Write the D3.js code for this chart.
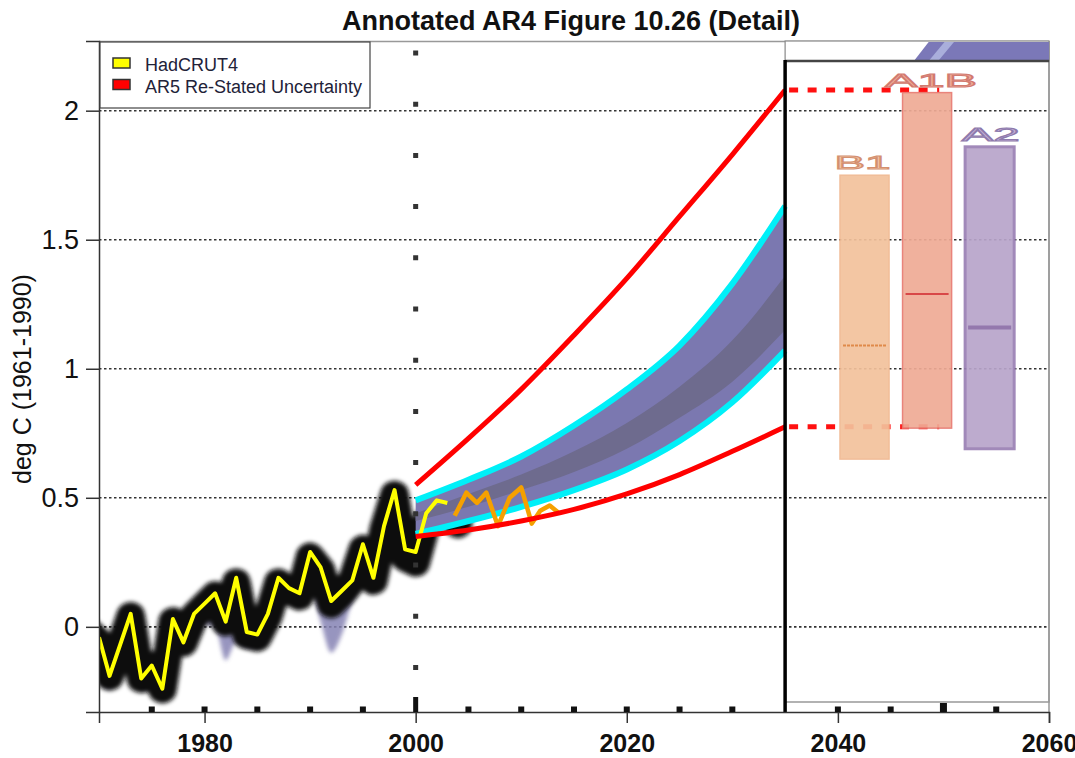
<!DOCTYPE html>
<html>
<head>
<meta charset="utf-8">
<script src="https://cdn.jsdelivr.net/npm/d3@7/dist/d3.min.js"></script>
<style>
  body { margin: 0; background: #fff; }
  svg { display: block; font-family: "Liberation Sans", Arial, sans-serif; }
</style>
</head>
<body>
<div class="chart"></div>
<script>
// ---- data ----
var hadYears = [1970,1971,1972,1973,1974,1975,1976,1977,1978,1979,1980,1981,1982,1983,1984,1985,1986,1987,1988,1989,1990,1991,1992,1993,1994,1995,1996,1997,1998,1999,2000,2001,2002,2003];
var hadcrut4 = [-0.04,-0.19,-0.07,0.05,-0.20,-0.15,-0.24,0.03,-0.06,0.05,0.09,0.13,0.02,0.19,-0.02,-0.03,0.05,0.19,0.15,0.13,0.29,0.23,0.10,0.14,0.18,0.32,0.19,0.39,0.53,0.30,0.29,0.44,0.49,0.48];

// thick black AR4 observations
var obsYears = [1969,1970,1971,1972,1973,1974,1975,1976,1977,1978,1979,1980,1981,1982,1983,1984,1985,1986,1987,1988,1989,1990,1991,1992,1993,1994,1995,1996,1997,1998,1999,2000,2001,2002,2003,2004];
var obsAR4 = [-0.02,-0.06,-0.19,-0.08,0.04,-0.20,-0.15,-0.24,0.02,-0.06,0.04,0.08,0.12,0.02,0.17,-0.03,-0.04,0.04,0.17,0.14,0.12,0.27,0.22,0.09,0.13,0.18,0.30,0.18,0.38,0.51,0.27,0.25,0.40,0.45,0.46,0.40];

// lower edge of the 20th century model envelope (shows under the black band)
var modelYears = [1970,1971,1972,1973,1974,1975,1976,1977,1978,1979,1980,1981,1982,1983,1984,1985,1986,1987,1988,1989,1990,1991,1992,1993,1994,1995,1996,1997,1998,1999,2000];
var modelLow = [-0.20,-0.24,-0.14,-0.06,-0.24,-0.24,-0.28,-0.05,-0.10,-0.05,0.01,0.00,-0.13,-0.06,-0.08,-0.08,-0.02,0.10,0.10,0.08,0.16,0.02,-0.10,-0.03,0.10,0.18,0.14,0.25,0.30,0.26,0.30];

// recent observations (orange)
var recentYears = [2003.7,2004.8,2005.8,2006.7,2007.8,2008.9,2010.0,2011.0,2011.8,2012.7,2013.6];
var recentVals = [0.43,0.52,0.48,0.52,0.39,0.50,0.54,0.40,0.45,0.47,0.44];

// AR4 projection band, its central core, and AR5 re-stated range
var projYears = [2000,2005,2010,2015,2020,2025,2030,2035];
var bandLow  = [0.36,0.41,0.465,0.53,0.61,0.72,0.87,1.07];
var bandHigh = [0.49,0.57,0.66,0.78,0.92,1.09,1.33,1.63];
var coreLow  = [0.41,0.465,0.53,0.60,0.69,0.81,0.95,1.15];
var coreHigh = [0.44,0.515,0.59,0.68,0.79,0.93,1.11,1.36];
var ar5Low   = [0.35,0.375,0.41,0.455,0.515,0.59,0.68,0.775];
var ar5High  = [0.55,0.73,0.92,1.13,1.35,1.59,1.83,2.08];

// scenario bars
var scenarios = ["B1","A1B","A2"];
var scenLow  = [0.65,0.77,0.69];
var scenHigh = [1.75,2.07,1.86];
var scenMid  = [1.09,1.29,1.16];

var xTicks = [1980,2000,2020,2040,2060];
var xMinor = [1975,1980,1985,1990,1995,2005,2010,2015,2020,2025,2030,2040,2045,2055];
var yTicks = [0,0.5,1,1.5,2];

// ---- layout ----
var svgWidth = 1075;
var svgHeight = 758;
var margin = { top: 41, right: 26, bottom: 46, left: 99 };
var width = svgWidth - margin.left - margin.right;
var height = svgHeight - margin.top - margin.bottom;

var svg = d3.select(".chart").append("svg")
    .attr("width", svgWidth).attr("height", svgHeight);

var defs = svg.append("defs");
defs.append("clipPath").attr("id", "plotClip")
  .append("rect").attr("width", width).attr("height", height);
defs.append("filter").attr("id", "soft").attr("x", "-10%").attr("y", "-10%").attr("width", "120%").attr("height", "120%")
  .append("feGaussianBlur").attr("stdDeviation", 2.2);

var chartGroup = svg.append("g").attr("transform", `translate(${margin.left},${margin.top})`);

var x = d3.scaleLinear().domain([1970, 2060]).range([0, width]);
var y = d3.scaleLinear().domain([-0.33, 2.27]).range([height, 0]);

// gridlines
chartGroup.selectAll(".grid").data(yTicks).enter().append("line")
  .attr("x1", 0).attr("x2", width)
  .attr("y1", d => y(d)).attr("y2", d => y(d))
  .attr("stroke", "#333").attr("stroke-width", 1.6).attr("stroke-dasharray", "2.5,2.5");

// frame top / right
chartGroup.append("line").attr("x1", 0).attr("x2", width).attr("y1", 0.5).attr("y2", 0.5)
  .attr("stroke", "#999").attr("stroke-width", 1.5);
chartGroup.append("line").attr("x1", width).attr("x2", width).attr("y1", 0).attr("y2", height)
  .attr("stroke", "#999").attr("stroke-width", 1.5);

var plot = chartGroup.append("g").attr("clip-path", "url(#plotClip)");

// model envelope under observations
var modelRows = modelYears.map((d, i) => ({ yr: d, lo: modelLow[i], hi: hadcrut4[i] }));
plot.append("path").datum(modelRows)
  .attr("d", d3.area().curve(d3.curveMonotoneX).x(d => x(d.yr)).y0(d => y(d.lo)).y1(d => y(d.hi)))
  .attr("fill", "#8683b4").attr("opacity", 0.85).attr("filter", "url(#soft)");

// thick black observation band
var obsRows = obsYears.map((d, i) => ({ yr: d, v: obsAR4[i] }));
plot.append("path").datum(obsRows)
  .attr("d", d3.line().x(d => x(d.yr)).y(d => y(d.v)))
  .attr("fill", "none").attr("stroke", "#111").attr("stroke-width", 29)
  .attr("stroke-linejoin", "round").attr("stroke-linecap", "round")
  .attr("filter", "url(#soft)");

// projection band
var projRows = projYears.map((d, i) => ({
  yr: d, lo: bandLow[i], hi: bandHigh[i], cLo: coreLow[i], cHi: coreHigh[i], rLo: ar5Low[i], rHi: ar5High[i]
}));
var curve = d3.curveMonotoneX;
plot.append("path").datum(projRows)
  .attr("d", d3.area().curve(curve).x(d => x(d.yr)).y0(d => y(d.lo)).y1(d => y(d.hi)))
  .attr("fill", "#7b78b0");
plot.append("path").datum(projRows)
  .attr("d", d3.area().curve(curve).x(d => x(d.yr)).y0(d => y(d.cLo)).y1(d => y(d.cHi)))
  .attr("fill", "#6e6b8e");

// 2000 dotted marker
chartGroup.append("line")
  .attr("x1", x(2000)).attr("x2", x(2000)).attr("y1", 9.5).attr("y2", height - 16)
  .attr("stroke", "#333").attr("stroke-width", 5).attr("stroke-dasharray", "5,46.2");

// cyan edges
["lo", "hi"].forEach(function(k) {
  plot.append("path").datum(projRows)
    .attr("d", d3.line().curve(curve).x(d => x(d.yr)).y(d => y(d[k])))
    .attr("fill", "none").attr("stroke", "#00f0f8").attr("stroke-width", 6);
});

// HadCRUT4 (yellow)
var hadRows = hadYears.map((d, i) => ({ yr: d, v: hadcrut4[i] }));
plot.append("path").datum(hadRows)
  .attr("d", d3.line().x(d => x(d.yr)).y(d => y(d.v)))
  .attr("fill", "none").attr("stroke", "#ffff00").attr("stroke-width", 4)
  .attr("stroke-linejoin", "round");

// recent (orange)
var recentRows = recentYears.map((d, i) => ({ yr: d, v: recentVals[i] }));
plot.append("path").datum(recentRows)
  .attr("d", d3.line().x(d => x(d.yr)).y(d => y(d.v)))
  .attr("fill", "none").attr("stroke", "#f5a000").attr("stroke-width", 4.5)
  .attr("stroke-linejoin", "round");

// AR5 re-stated uncertainty (red)
["rLo", "rHi"].forEach(function(k) {
  plot.append("path").datum(projRows)
    .attr("d", d3.line().curve(curve).x(d => x(d.yr)).y(d => y(d[k])))
    .attr("fill", "none").attr("stroke", "#ff0000").attr("stroke-width", 5);
});

// right panel box
chartGroup.append("rect")
  .attr("x", x(2035)).attr("y", 20).attr("width", x(2060) - x(2035)).attr("height", height - 30)
  .attr("fill", "none").attr("stroke", "#999").attr("stroke-width", 1.5);

// red dotted continuation
var ends = [ar5Low[ar5Low.length - 1], ar5High[ar5High.length - 1]];
chartGroup.selectAll(".reddot").data(ends).enter().append("line")
  .attr("x1", x(2035) + 4).attr("x2", x(2049.6))
  .attr("y1", d => y(d)).attr("y2", d => y(d))
  .attr("stroke", "#ff1010").attr("stroke-width", 5).attr("stroke-dasharray", "9,9.5");

// scenario bars
var band = d3.scaleBand().domain(scenarios).range([x(2040.2), x(2056.7)]).paddingInner(0.216);
var barFill = ["#f3c29c", "#efab95", "#b8a4ca"];
var barEdge = ["#f0b890", "#e87a70", "#9a80b4"];
var midCol = ["#e08a4a", "#d84848", "#9478ad"];
var labFill = ["#f2c4a4", "#eeaa98", "#c2aed6"];
var labEdge = ["#d49070", "#d27a70", "#8e7aac"];

var bars = chartGroup.selectAll(".scen").data(scenarios).enter().append("g");
bars.append("rect")
  .attr("x", d => band(d)).attr("width", band.bandwidth())
  .attr("y", (d, i) => y(scenHigh[i])).attr("height", (d, i) => y(scenLow[i]) - y(scenHigh[i]))
  .attr("fill", (d, i) => barFill[i]).attr("stroke", (d, i) => barEdge[i])
  .attr("stroke-width", (d, i) => i === 2 ? 3 : 1.5).attr("opacity", 0.92);
bars.append("line")
  .attr("x1", d => band(d) + 3).attr("x2", d => band(d) + band.bandwidth() - 3)
  .attr("y1", (d, i) => y(scenMid[i])).attr("y2", (d, i) => y(scenMid[i]))
  .attr("stroke", (d, i) => midCol[i]).attr("stroke-width", (d, i) => i === 2 ? 4 : 2)
  .attr("stroke-dasharray", (d, i) => i === 0 ? "3,1" : null);
bars.append("text")
  .attr("x", d => band(d) + band.bandwidth() / 2 + [-2, 4, 1][scenarios.indexOf(d)])
  .attr("y", (d, i) => y(scenHigh[i]) - 6)
  .attr("text-anchor", "middle")
  .attr("font-size", 19)
  .attr("textLength", (d, i) => [56, 92, 58][i]).attr("lengthAdjust", "spacingAndGlyphs")
  .attr("fill", (d, i) => labFill[i]).attr("stroke", (d, i) => labEdge[i]).attr("stroke-width", 1)
  .text(d => d);

// top strip
chartGroup.append("rect")
  .attr("x", x(2035)).attr("y", 0).attr("width", x(2060) - x(2035)).attr("height", 20)
  .attr("fill", "#fff").attr("stroke", "#888").attr("stroke-width", 1.2);
chartGroup.append("polygon")
  .attr("points", [[x(2047.2), 20], [x(2048.6), 1], [x(2060), 1], [x(2060), 20]].map(p => p.join(",")).join(" "))
  .attr("fill", "#7b78b8");
chartGroup.append("polygon")
  .attr("points", [[x(2048.6), 20], [x(2050.1), 1], [x(2051.0), 1], [x(2049.5), 20]].map(p => p.join(",")).join(" "))
  .attr("fill", "#a9aedb");
chartGroup.append("line").attr("x1", x(2035)).attr("x2", x(2060)).attr("y1", 20).attr("y2", 20)
  .attr("stroke", "#444").attr("stroke-width", 2.5);

// 2035 divider
chartGroup.append("line")
  .attr("x1", x(2035)).attr("x2", x(2035)).attr("y1", 19).attr("y2", height)
  .attr("stroke", "#000").attr("stroke-width", 3.5);

// axes
var bottomAxis = d3.axisBottom(x).tickValues(xTicks).tickFormat(d3.format("d")).tickSize(11).tickPadding(11);
var leftAxis = d3.axisLeft(y).tickValues(yTicks).tickFormat(d => String(d)).tickSize(13).tickPadding(7);

var xAxis = chartGroup.append("g").attr("transform", `translate(0, ${height})`).call(bottomAxis);
xAxis.select(".domain").attr("stroke", "#333").attr("stroke-width", 1.5);
xAxis.selectAll(".tick line").attr("stroke", "#333").attr("stroke-width", 1.5);
xAxis.selectAll("text").attr("font-size", 25).attr("font-weight", "bold").attr("fill", "#111")
  .attr("font-family", "Liberation Sans, Arial, sans-serif");

var yAxis = chartGroup.append("g").call(leftAxis);
yAxis.select(".domain").attr("stroke", "#333").attr("stroke-width", 1.5);
yAxis.selectAll(".tick line").attr("stroke", "#333").attr("stroke-width", 1.5);
yAxis.selectAll("text").attr("font-size", 27).attr("fill", "#111")
  .attr("font-family", "Liberation Sans, Arial, sans-serif");

// minor square marks on the time axis
chartGroup.selectAll(".minor").data(xMinor).enter().append("rect")
  .attr("x", d => x(d) - 3).attr("y", height - 5.5).attr("width", 6).attr("height", 5.5)
  .attr("fill", "#111");
chartGroup.append("rect").attr("x", x(2000) - 2.5).attr("y", height - 15).attr("width", 5).attr("height", 15).attr("fill", "#111");
chartGroup.append("rect").attr("x", x(2050) - 3.5).attr("y", height - 9).attr("width", 7).attr("height", 9).attr("fill", "#111");

// legend
var legend = chartGroup.append("g").attr("transform", "translate(1, 1)");
legend.append("rect").attr("width", 270).attr("height", 66)
  .attr("fill", "#fff").attr("stroke", "#444").attr("stroke-width", 1.2);
var legendItems = [["HadCRUT4", "#ffff00"], ["AR5 Re-Stated Uncertainty", "#ff0000"]];
legendItems.forEach(function(item, i) {
  legend.append("rect").attr("x", 13).attr("y", 16 + i * 21.5).attr("width", 17).attr("height", 10)
    .attr("fill", item[1]).attr("stroke", "#333").attr("stroke-width", 1.5);
  legend.append("text").attr("x", 45).attr("y", 29 + i * 22).attr("font-size", 18).attr("fill", "#222238")
    .text(item[0]);
});

// titles
svg.append("text").attr("x", 571).attr("y", 30).attr("text-anchor", "middle")
  .attr("font-size", 27).attr("font-weight", "bold").attr("fill", "#111")
  .text("Annotated AR4 Figure 10.26 (Detail)");

svg.append("text").attr("transform", "rotate(-90)")
  .attr("x", -379).attr("y", 31).attr("text-anchor", "middle")
  .attr("font-size", 25).attr("fill", "#111")
  .text("deg C (1961-1990)");
</script>
</body>
</html>
